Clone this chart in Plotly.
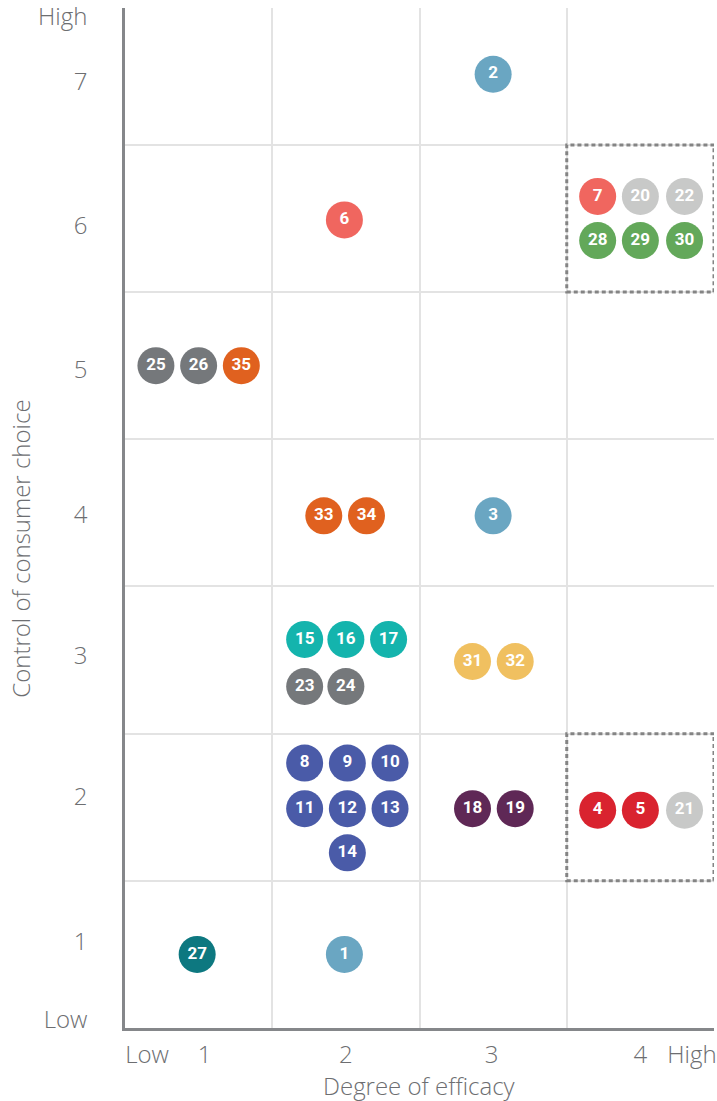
import plotly.graph_objects as go

# item number, efficacy (x), consumer choice (y), colour
labels = ["2", "6", "7", "20", "22", "28", "29", "30", "25", "26", "35",
          "33", "34", "3", "15", "16", "17", "23", "24", "31", "32",
          "8", "9", "10", "11", "12", "13", "14", "18", "19",
          "4", "5", "21", "27", "1"]
efficacy = [3.0, 1.99, 3.71, 4.0, 4.3, 3.71, 4.0, 4.3, 0.71, 1.0, 1.29,
            1.85, 2.14, 3.0, 1.72, 2.0, 2.29, 1.72, 2.0, 2.86, 3.15,
            1.72, 2.01, 2.3, 1.72, 2.01, 2.3, 2.01, 2.86, 3.15,
            3.71, 4.0, 4.3, 0.99, 1.99]
choice = [6.98, 5.99, 6.15, 6.15, 6.15, 5.85, 5.85, 5.85, 5.0, 5.0, 5.0,
          3.98, 3.98, 3.98, 3.14, 3.14, 3.14, 2.82, 2.82, 2.99, 2.99,
          2.3, 2.3, 2.3, 1.99, 1.99, 1.99, 1.69, 1.99, 1.99,
          1.98, 1.98, 1.98, 1.0, 1.0]
colors = ["#6aa6c2", "#f0665f", "#f0665f", "#c8c9c8", "#c8c9c8", "#63a85a", "#63a85a", "#63a85a",
          "#75787b", "#75787b", "#e0611f", "#e0611f", "#e0611f", "#6aa6c2",
          "#14b4ad", "#14b4ad", "#14b4ad", "#75787b", "#75787b", "#f0c060", "#f0c060",
          "#4a5ba8", "#4a5ba8", "#4a5ba8", "#4a5ba8", "#4a5ba8", "#4a5ba8", "#4a5ba8",
          "#5f2856", "#5f2856", "#d9232f", "#d9232f", "#c8c9c8", "#0d7880", "#6aa6c2"]

x_tickvals = [0.65, 1.04, 2.0, 2.99, 4.0, 4.35]
x_ticktext = ["Low", "1", "2", "3", "4", "High"]
y_tickvals = [0.554, 1.09, 2.07, 3.03, 3.99, 4.97, 5.95, 6.93, 7.37]
y_ticktext = ["Low", "1", "2", "3", "4", "5", "6", "7", "High"]

GRID = "#e3e3e3"
AXIS = "#85878a"
TXT = "#6d6e71"

fig = go.Figure()
fig.add_trace(go.Scatter(
    x=efficacy, y=choice, mode="markers+text", text=labels,
    marker=dict(size=37, color=colors, line=dict(width=0)),
    textfont=dict(family="Roboto", size=17, color="white", weight="bold"),
    textposition="middle center", hoverinfo="skip", showlegend=False,
))

# dashed boxes around the highlighted cells
for y0 in [5.5, 1.5]:
    fig.add_shape(type="rect", x0=3.5, x1=4.5, y0=y0, y1=y0 + 1, xref="x", yref="y",
                  line=dict(color="#848484", width=3, dash="4px,3px"), layer="above")

fig.add_annotation(text="Degree of efficacy", xref="paper", yref="paper", x=0.5, y=-0.056,
                   showarrow=False, font=dict(size=24, color=TXT, weight=300), yanchor="middle")
fig.add_annotation(text="Control of consumer choice", xref="paper", yref="paper", x=-0.178, y=0.47,
                   showarrow=False, textangle=-90, font=dict(size=24, color=TXT, weight=300),
                   xanchor="center")

fig.update_layout(
    width=717, height=1101,
    margin=dict(l=125, r=3, t=8, b=73),
    paper_bgcolor="white", plot_bgcolor="white",
    font=dict(family="Open Sans", color=TXT, size=24, weight=300),
    xaxis=dict(range=[0.5, 4.5], tickvals=x_tickvals, ticktext=x_ticktext, showgrid=False,
               zeroline=False, showline=True, linecolor=AXIS, linewidth=2.5, ticks="",
               ticklabelstandoff=3, ticklabeloverflow="allow", automargin=False,
               minor=dict(tickvals=[1.5, 2.5, 3.5, 4.5], showgrid=True, gridcolor=GRID, gridwidth=2)),
    yaxis=dict(range=[0.5, 7.43], tickvals=y_tickvals, ticktext=y_ticktext, showgrid=False,
               zeroline=False, showline=True, linecolor=AXIS, linewidth=2.5, ticks="",
               ticklabelstandoff=30, ticklabeloverflow="allow", automargin=False,
               minor=dict(tickvals=[1.5, 2.5, 3.5, 4.5, 5.5, 6.5, 7.43], showgrid=True,
                          gridcolor=GRID, gridwidth=2)),
)

# drop the default page margin so the figure fills the window exactly
fig.write_html("out.html", config={"displayModeBar": False},
               post_script="document.body.style.margin = '0';")
